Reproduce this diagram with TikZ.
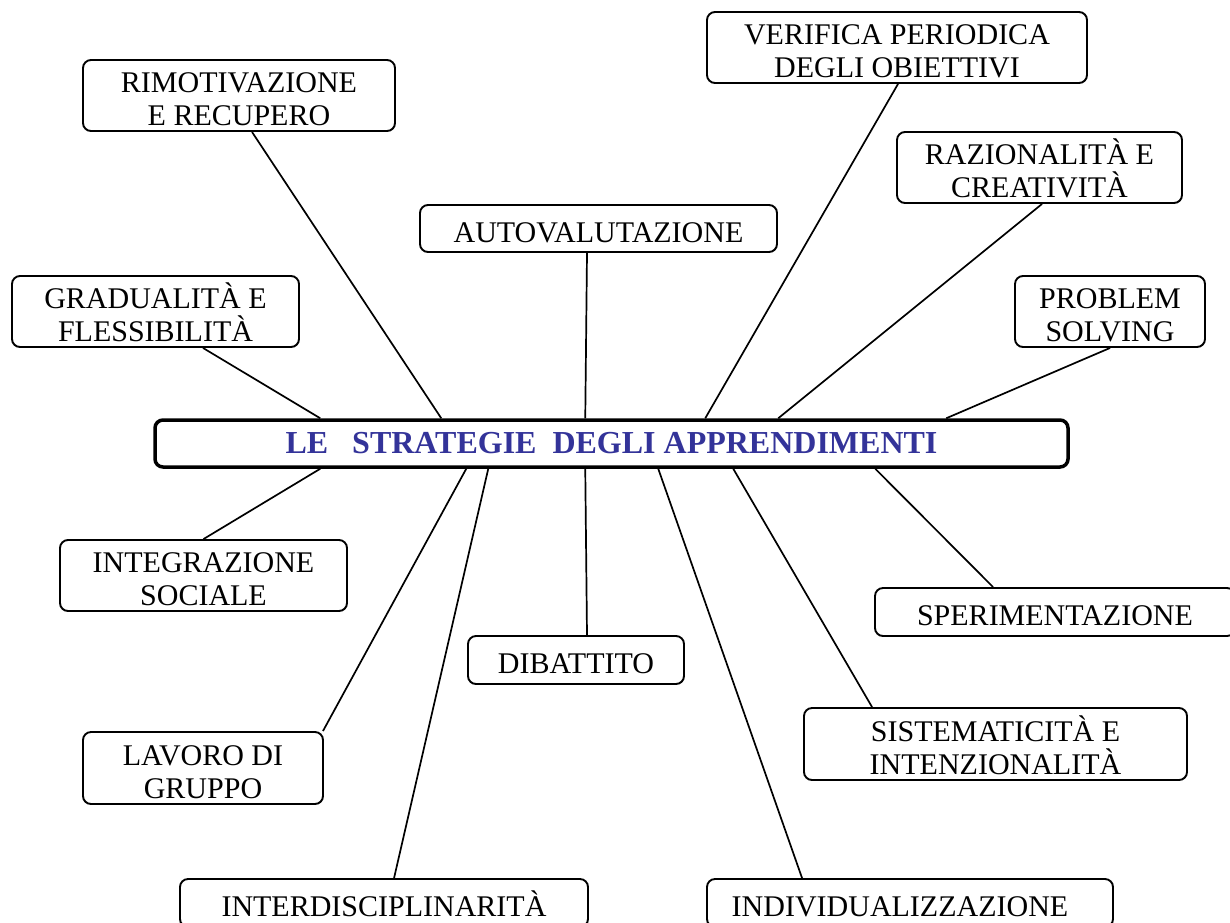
\documentclass[tikz,border=0pt]{standalone}
\usepackage{fontspec}
\setmainfont{Liberation Serif}
\definecolor{titleblue}{RGB}{51,51,153}
\newcommand\tstrut{\rule{0pt}{28pt}}
\tikzset{
  box/.style={draw=black, line width=1.9pt, rounded corners=8pt, inner sep=0pt, align=center,
    font=\fontsize{30}{33}\selectfont},
  mainbox/.style={draw=black, line width=3.5pt, rounded corners=8pt, inner sep=0pt,
    text=titleblue, font=\bfseries\fontsize{32}{36}\selectfont},
  conn/.style={draw=black, line width=1.7pt}
}
\begin{document}
\begin{tikzpicture}[x=1pt,y=-1pt]
\useasboundingbox[fill=white] (0,0) rectangle (1230,922);
% central node
\node[mainbox, minimum width=913pt, minimum height=47pt] (main) at (611.5,443.5)
  {LE\ \ \ STRATEGIE\ \ DEGLI APPRENDIMENTI};
% outer nodes
\node[box, minimum width=312pt, minimum height=71pt] (rim) at (239,95.5) {\tstrut RIMOTIVAZIONE\\E RECUPERO};
\node[box, minimum width=287pt, minimum height=71pt] (grad) at (155.5,311.5) {\tstrut GRADUALITÀ E\\FLESSIBILITÀ};
\node[box, minimum width=357pt, minimum height=47pt] (auto) at (598.5,228.5) {\tstrut AUTOVALUTAZIONE};
\node[box, minimum width=380pt, minimum height=71pt] (ver) at (897,47.5) {\tstrut VERIFICA PERIODICA\\DEGLI OBIETTIVI};
\node[box, minimum width=285pt, minimum height=71pt] (raz) at (1039.5,167.5) {\tstrut RAZIONALITÀ E\\CREATIVITÀ};
\node[box, minimum width=190pt, minimum height=71pt] (prob) at (1110,311.5) {\tstrut PROBLEM\\SOLVING};
\node[box, minimum width=287pt, minimum height=71pt] (integ) at (203.5,575.5) {\tstrut INTEGRAZIONE\\SOCIALE};
\node[box, minimum width=216pt, minimum height=48pt] (dib) at (576,660) {\tstrut DIBATTITO};
\node[box, minimum width=360pt, minimum height=48pt] (sper) at (1055,612) {\tstrut SPERIMENTAZIONE};
\node[box, minimum width=383pt, minimum height=72pt] (sist) at (995.5,744) {\tstrut SISTEMATICITÀ E\\INTENZIONALITÀ};
\node[box, minimum width=240pt, minimum height=72pt] (lav) at (203,768) {\tstrut LAVORO DI\\GRUPPO};
\node[box, minimum width=408pt, minimum height=48pt] (inter) at (384,903) {\tstrut INTERDISCIPLINARITÀ};
\node[box, minimum width=406pt, minimum height=48pt] (indiv) at (910,903) {\tstrut\kern-20pt INDIVIDUALIZZAZIONE};
% connectors
\draw[conn] ([xshift=13pt]rim.south) -- ([xshift=288pt]main.north west);
\draw[conn] ([xshift=47.5pt]grad.south) -- ([xshift=167pt]main.north west);
\draw[conn] ([xshift=-11.5pt]auto.south) -- ([xshift=432pt]main.north west);
\draw[conn] ([xshift=1pt]ver.south) -- ([xshift=552pt]main.north west);
\draw[conn] ([xshift=2.5pt]raz.south) -- ([xshift=625pt]main.north west);
\draw[conn] (prob.south) -- ([xshift=793pt]main.north west);
\draw[conn] (integ.north) -- ([xshift=167pt]main.south west);
\draw[conn] ([xshift=11pt]dib.north) -- ([xshift=432pt]main.south west);
\draw[conn] ([xshift=119pt]sper.north west) -- ([xshift=722pt]main.south west);
\draw[conn] ([xshift=69pt]sist.north west) -- ([xshift=580pt]main.south west);
\draw[conn] ([xshift=-1pt]lav.north east) -- ([xshift=313pt]main.south west);
\draw[conn] ([xshift=215pt]inter.north west) -- ([xshift=335pt]main.south west);
\draw[conn] ([xshift=96pt]indiv.north west) -- ([xshift=505pt]main.south west);
\end{tikzpicture}
\end{document}
